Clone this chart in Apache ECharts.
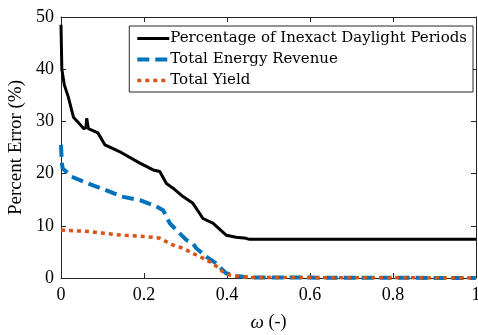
<!DOCTYPE html>
<html>
<head>
<meta charset="utf-8">
<script src="https://cdn.jsdelivr.net/npm/echarts@6/dist/echarts.min.js"></script>
<style>
  html, body { margin: 0; padding: 0; background: #fff; }
  #chart { width: 478px; height: 335px; }
</style>
</head>
<body>
<div id="chart"></div>
<script>
// omega values and percent errors
var daylightX = [0, 0.002, 0.008, 0.0175, 0.03, 0.045, 0.055, 0.06, 0.062, 0.066, 0.089, 0.106, 0.146, 0.19, 0.222, 0.238, 0.254, 0.27, 0.294, 0.318, 0.342, 0.366, 0.398, 0.422, 0.446, 0.454, 1];
var daylightY = [48.5, 40, 37, 34.7, 30.8, 29.5, 28.6, 28.8, 30.6, 28.6, 27.8, 25.5, 24, 22.0, 20.7, 20.4, 18.1, 17.2, 15.6, 14.3, 11.4, 10.5, 8.2, 7.8, 7.6, 7.4, 7.4];

var revenueX = [0, 0.002, 0.004, 0.026, 0.066, 0.106, 0.146, 0.19, 0.23, 0.246, 0.262, 0.278, 0.302, 0.318, 0.326, 0.35, 0.374, 0.398, 0.422, 0.454, 1];
var revenueY = [25.5, 22, 21.0, 19.4, 18.1, 16.9, 15.6, 14.9, 13.7, 13.0, 10.5, 9.2, 7.3, 6.6, 5.7, 4.1, 2.8, 0.9, 0.4, 0.1, 0];

var yieldX = [0, 0.066, 0.146, 0.19, 0.222, 0.238, 0.27, 0.294, 0.318, 0.342, 0.366, 0.39, 0.406, 0.43, 0.454, 1];
var yieldY = [9.2, 8.9, 8.2, 8.0, 7.8, 7.6, 6.3, 5.7, 4.7, 3.8, 2.8, 1.2, 0.6, 0.25, 0.1, 0];

var seriesNames = ['Percentage of Inexact Daylight Periods', 'Total Energy Revenue', 'Total Yield'];
var xTicks = [0, 0.2, 0.4, 0.6, 0.8, 1];

function pairs(xs, ys) {
  return xs.map(function (x, i) { return [x, ys[i]]; });
}

var font = 'Liberation Serif';
var legendFont = 'DejaVu Serif';
var axisCol = '#262626';
var colors = ['#000000', '#0072BD', '#D95319'];
var styles = [
  { width: 3, type: 'solid' },
  { width: 4, type: [12, 6] },
  { width: 3.5, type: [4, 4] }
];

var chart = echarts.init(document.getElementById('chart'));
chart.setOption({
  animation: false,
  grid: { left: 61, right: 2, top: 17, bottom: 57, outerBoundsMode: 'none' },
  legend: {
    data: seriesNames.map(function (n, i) {
      return {
        name: n,
        itemStyle: { opacity: 0 },
        lineStyle: { color: colors[i], width: styles[i].width, type: styles[i].type }
      };
    }),
    orient: 'vertical',
    right: 5,
    top: 26,
    itemWidth: 32,
    itemHeight: 10,
    itemGap: 6,
    padding: [5, 6, 4, 6],
    backgroundColor: '#fff',
    borderColor: axisCol,
    borderWidth: 1,
    borderRadius: 0,
    textStyle: { fontFamily: legendFont, fontSize: 15, color: '#000', padding: [0, 0, 0, -4] }
  },
  xAxis: [{
    type: 'value',
    min: 0, max: 1, interval: 0.2,
    name: '{w|ω} (-)',
    nameLocation: 'middle',
    nameGap: 35,
    nameTextStyle: {
      fontFamily: font, fontSize: 18, color: '#000',
      rich: { w: { fontFamily: font, fontSize: 19, fontStyle: 'italic', color: '#000' } }
    },
    axisLine: { onZero: false, lineStyle: { color: axisCol } },
    axisTick: { inside: true, length: 5, lineStyle: { color: axisCol } },
    axisLabel: {
      fontFamily: font, fontSize: 18, color: '#000', margin: 8,
      formatter: function (v) { return xTicks.indexOf(v) >= 0 ? String(v) : ''; }
    },
    splitLine: { show: false }
  }, {
    type: 'value', position: 'top',
    min: 0, max: 1, interval: 0.2,
    axisLine: { show: true, onZero: false, lineStyle: { color: axisCol } },
    axisTick: { show: true, inside: true, length: 5, lineStyle: { color: axisCol } },
    axisLabel: { show: false },
    splitLine: { show: false }
  }],
  yAxis: [{
    type: 'value',
    min: 0, max: 50, interval: 10,
    name: 'Percent Error (%)',
    nameLocation: 'middle',
    nameGap: 34,
    nameTextStyle: { fontFamily: font, fontSize: 19, color: '#000' },
    axisLine: { show: true, onZero: false, lineStyle: { color: axisCol } },
    axisTick: { show: true, inside: true, length: 5, lineStyle: { color: axisCol } },
    axisLabel: { fontFamily: font, fontSize: 18, color: '#000', margin: 7 },
    splitLine: { show: false }
  }, {
    type: 'value', position: 'right',
    min: 0, max: 50, interval: 10,
    axisLine: { show: true, onZero: false, lineStyle: { color: axisCol } },
    axisTick: { show: true, inside: true, length: 5, lineStyle: { color: axisCol } },
    axisLabel: { show: false },
    splitLine: { show: false }
  }],
  series: seriesNames.map(function (n, i) {
    var xs = [daylightX, revenueX, yieldX][i];
    var ys = [daylightY, revenueY, yieldY][i];
    return {
      name: n,
      type: 'line',
      showSymbol: false,
      symbol: 'none',
      z: i === 2 ? 3 : 2,
      data: pairs(xs, ys),
      itemStyle: { color: colors[i] },
      lineStyle: { color: colors[i], width: styles[i].width, type: styles[i].type }
    };
  })
});
</script>
</body>
</html>
